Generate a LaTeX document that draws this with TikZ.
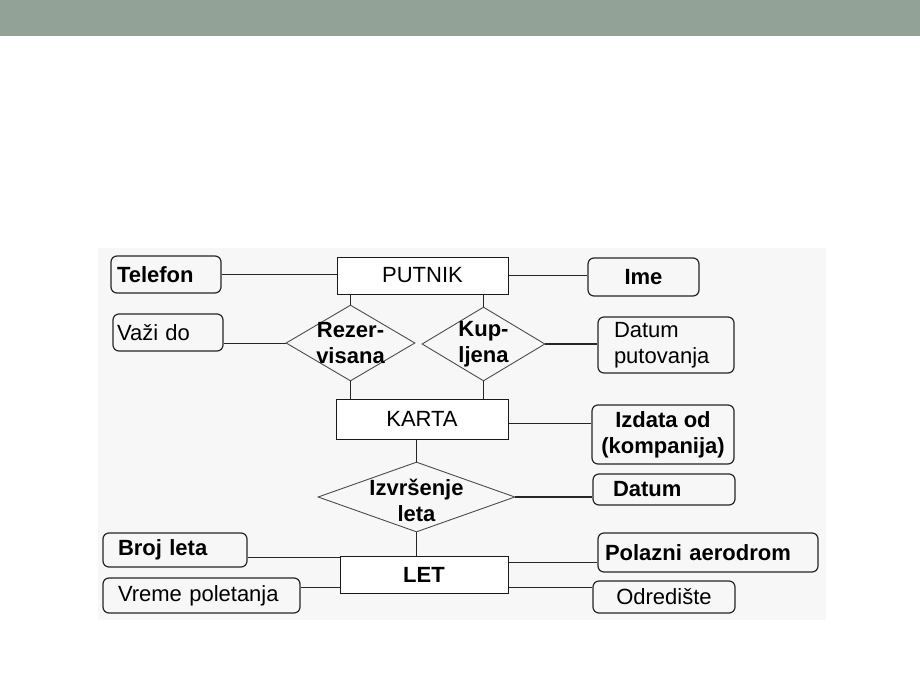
\documentclass[tikz,border=0pt]{standalone}
\usepackage{fontspec}
\setmainfont{Liberation Sans}
\usetikzlibrary{shapes.geometric,calc}
\definecolor{barcolor}{HTML}{92A297}
\definecolor{panel}{HTML}{F7F7F7}
\newcommand{\erfont}{\fontsize{22}{26}\selectfont}

\begin{document}
\begin{tikzpicture}[x=1pt,y=-1pt,
		entity/.style={draw=black!90,rectangle,fill=white,line width=1pt,font=\erfont,inner sep=0pt},
		attr/.style={draw=black!85,rectangle,rounded corners=6pt,line width=1.2pt,font=\erfont,inner sep=0pt},
		rel/.style={draw=black!70,diamond,line width=0.9pt,inner sep=0pt},
		reltext/.style={font=\erfont\bfseries,align=center,inner sep=0pt},
		link/.style={line width=1pt,black!85}
		]
		
		% Pozadina
		\useasboundingbox (0,0) rectangle (920,690);
		\fill[white] (0,0) rectangle (920,690);
		\fill[barcolor] (0,0) rectangle (920,36);
		\fill[panel] (98,248) rectangle (826,620);
		
		% Entiteti
		\node[entity,minimum width=171,minimum height=37] (putnik) at (422.5,275.5) {PUTNIK};
		\node[entity,minimum width=172,minimum height=40] (karta) at (422,419) {KARTA};
		\node[entity,minimum width=168,minimum height=37] (let) at (424,574.5) {\textbf{LET}};
		
		% Veze
		\node[rel,minimum width=129,minimum height=76] (rez) at (350.5,343) {};
		\node[reltext] (reztext) at (rez) {Rezer-\\visana};
		\node[rel,minimum width=123,minimum height=74] (kup) at (483.5,344) {};
		\node[reltext] (kuptext) at (kup) {Kup-\\ljena};
		\node[rel,minimum width=197,minimum height=70] (izv) at (416.5,497) {};
		\node[reltext] (izvtext) at ([yshift=-3pt]izv.center) {Izvr\v{s}enje\\leta};
		
		% Atributi levo
		\node[attr,minimum width=110,minimum height=37,text width=98pt,align=left] (tel) at (166,274.5) {\textbf{Telefon}};
		\node[attr,minimum width=110,minimum height=37,text width=102pt,align=left] (vazi) at (168,332.5) {Va\v{z}i do};
		\node[attr,minimum width=144,minimum height=34,text width=114pt,align=left] (broj) at (175,550) {\textbf{Broj leta}};
		\node[attr,minimum width=197,minimum height=35,text width=167pt,align=left] (vreme) at (201.5,595.5) {Vreme poletanja};
		
		% Atributi desno
		\node[attr,minimum width=111,minimum height=38] (ime) at (643.5,277) {\textbf{Ime}};
		\node[attr,minimum width=136,minimum height=56,text width=104pt,align=left] (dput) at (666,345) {Datum\\putovanja};
		\node[attr,minimum width=142,minimum height=59,align=center] (izd) at (663,434.5) {\textbf{Izdata od}\\\textbf{(kompanija)}};
		\node[attr,minimum width=142,minimum height=31,text width=102pt,align=left] (datum) at (664,489.5) {\textbf{Datum}};
		\node[attr,minimum width=220,minimum height=39,text width=206pt,align=left] (pol) at (708,552.5) {\textbf{Polazni aerodrom}};
		\node[attr,minimum width=142,minimum height=32] (odr) at (664,597) {Odredi\v{s}te};
		
		% Linije
		\draw[link] (tel.east) -- (tel.east -| putnik.west);
		\draw[link] (putnik.east) -- (putnik.east -| ime.west);
		\draw[link] (rez.west) -- (rez.west -| vazi.east);
		\draw[link] (rez.north) -- (rez.north |- putnik.south);
		\draw[link] (kup.north) -- (kup.north |- putnik.south);
		\draw[link,line width=1.6pt] (kup.east) -- (kup.east -| dput.west);
		\draw[link] (rez.south) -- (rez.south |- karta.north);
		\draw[link] (kup.south) -- (kup.south |- karta.north);
		\draw[link] ([yshift=-4pt]karta.east) -- ([yshift=-4pt]karta.east -| izd.west);
		\draw[link] (izv.north) -- (izv.north |- karta.south);
		\draw[link,line width=1.6pt] (izv.east) -- (izv.east -| datum.west);
		\draw[link] (izv.south) -- (izv.south |- let.north);
		\draw[link] ([yshift=-2pt]let.north west) -- ([yshift=-2pt]let.north west -| broj.east);
		\draw[link] ([yshift=6pt]let.south west) -- ([yshift=6pt]let.south west -| vreme.east);
		\draw[link] ([yshift=-7pt]let.north east) -- ([yshift=-7pt]let.north east -| pol.west);
		\draw[link] ([yshift=6pt]let.south east) -- ([yshift=6pt]let.south east -| odr.west);
		
	\end{tikzpicture}
\end{document}
